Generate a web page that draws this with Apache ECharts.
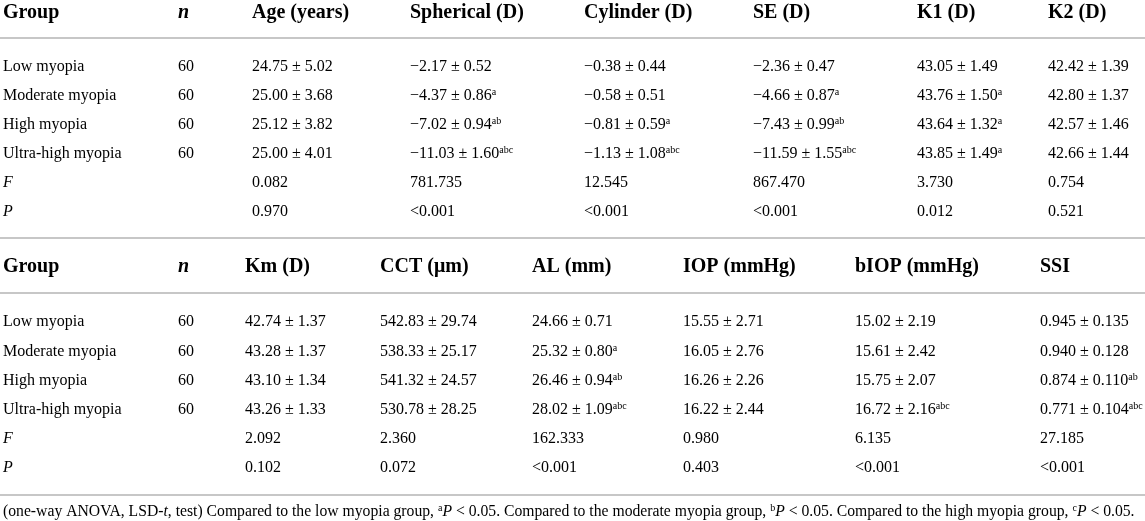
<!DOCTYPE html>
<html>
<head>
<meta charset="utf-8">
<script src="https://cdn.jsdelivr.net/npm/echarts@6/dist/echarts.min.js"></script>
<style>
  html, body { margin: 0; padding: 0; background: #fff; }
  #main { width: 1145px; height: 521px; }
</style>
</head>
<body>
<div id="main"></div>
<script>
// 表格数据（^ 后面是上标）
var groups = ['Low myopia', 'Moderate myopia', 'High myopia', 'Ultra-high myopia'];
var groupN = ['60', '60', '60', '60'];

var headers1 = ['Age (years)', 'Spherical (D)', 'Cylinder (D)', 'SE (D)', 'K1 (D)', 'K2 (D)'];
var age = ['24.75 ± 5.02', '25.00 ± 3.68', '25.12 ± 3.82', '25.00 ± 4.01'];
var spherical = ['−2.17 ± 0.52', '−4.37 ± 0.86^a', '−7.02 ± 0.94^ab', '−11.03 ± 1.60^abc'];
var cylinder = ['−0.38 ± 0.44', '−0.58 ± 0.51', '−0.81 ± 0.59^a', '−1.13 ± 1.08^abc'];
var se = ['−2.36 ± 0.47', '−4.66 ± 0.87^a', '−7.43 ± 0.99^ab', '−11.59 ± 1.55^abc'];
var k1 = ['43.05 ± 1.49', '43.76 ± 1.50^a', '43.64 ± 1.32^a', '43.85 ± 1.49^a'];
var k2 = ['42.42 ± 1.39', '42.80 ± 1.37', '42.57 ± 1.46', '42.66 ± 1.44'];
var fValues1 = ['0.082', '781.735', '12.545', '867.470', '3.730', '0.754'];
var pValues1 = ['0.970', '<0.001', '<0.001', '<0.001', '0.012', '0.521'];

var headers2 = ['Km (D)', 'CCT (μm)', 'AL (mm)', 'IOP (mmHg)', 'bIOP (mmHg)', 'SSI'];
var km = ['42.74 ± 1.37', '43.28 ± 1.37', '43.10 ± 1.34', '43.26 ± 1.33'];
var cct = ['542.83 ± 29.74', '538.33 ± 25.17', '541.32 ± 24.57', '530.78 ± 28.25'];
var al = ['24.66 ± 0.71', '25.32 ± 0.80^a', '26.46 ± 0.94^ab', '28.02 ± 1.09^abc'];
var iop = ['15.55 ± 2.71', '16.05 ± 2.76', '16.26 ± 2.26', '16.22 ± 2.44'];
var biop = ['15.02 ± 2.19', '15.61 ± 2.42', '15.75 ± 2.07', '16.72 ± 2.16^abc'];
var ssi = ['0.945 ± 0.135', '0.940 ± 0.128', '0.874 ± 0.110^ab', '0.771 ± 0.104^abc'];
var fValues2 = ['2.092', '2.360', '162.333', '0.980', '6.135', '27.185'];
var pValues2 = ['0.102', '0.072', '<0.001', '0.403', '<0.001', '<0.001'];

// 版式
var FONT = '"Liberation Serif", "DejaVu Serif", serif';
var INK = '#1a1718';
var RULE = '#b4b4b4';
var colX1 = [3, 178, 252, 410, 584, 753, 917, 1048];
var colX2 = [3, 178, 245, 380, 532, 683, 855, 1040];
var rowY1 = [13, 67, 96, 125, 154, 183, 212];
var rowY2 = [267, 322, 352, 381, 410, 439, 468];
var ruleY = [38, 238, 293, 495];
var footY = 512;

function cellRich(str, kind) {
    if (kind === 'head') return '{h|' + str + '}';
    if (kind === 'headItalic') return '{hi|' + str + '}';
    if (kind === 'italic') return '{i|' + str + '}';
    if (kind === 'raw') return str;
    var parts = str.split('^');
    return '{v|' + parts[0] + '}' + (parts[1] ? '{s|' + parts[1] + '}' : '');
}

var cellTexts = [], cellData = [];
function addCell(x, y, str, kind) {
    cellData.push([x, y, cellTexts.length]);
    cellTexts.push(cellRich(str, kind));
}

function buildTable(colX, rowY, headers, cols, fVals, pVals) {
    addCell(colX[0], rowY[0], 'Group', 'head');
    addCell(colX[1], rowY[0], 'n', 'headItalic');
    headers.forEach(function (h, c) { addCell(colX[c + 2], rowY[0], h, 'head'); });
    groups.forEach(function (g, r) {
        addCell(colX[0], rowY[r + 1], g, 'body');
        addCell(colX[1], rowY[r + 1], groupN[r], 'body');
        cols.forEach(function (col, c) { addCell(colX[c + 2], rowY[r + 1], col[r], 'body'); });
    });
    addCell(colX[0], rowY[5], 'F', 'italic');
    addCell(colX[0], rowY[6], 'P', 'italic');
    fVals.forEach(function (v, c) { addCell(colX[c + 2], rowY[5], v, 'body'); });
    pVals.forEach(function (v, c) { addCell(colX[c + 2], rowY[6], v, 'body'); });
}

buildTable(colX1, rowY1, headers1, [age, spherical, cylinder, se, k1, k2], fValues1, pValues1);
buildTable(colX2, rowY2, headers2, [km, cct, al, iop, biop, ssi], fValues2, pValues2);

var footnote = '{n|(one-way ANOVA, LSD-}{ni|t}{n|, test) Compared to the low myopia group, }{s|a}{ni|P}{n| < 0.05. ' +
    'Compared to the moderate myopia group, }{s|b}{ni|P}{n| < 0.05. Compared to the high myopia group, }{s|c}{ni|P}{n| < 0.05.}';
addCell(3, footY, footnote, 'raw');

var rich = {
    h: { fontFamily: FONT, fontSize: 20, fontWeight: 'bold', color: INK, lineHeight: 22 },
    hi: { fontFamily: FONT, fontSize: 20, fontWeight: 'bold', fontStyle: 'italic', color: INK, lineHeight: 22 },
    v: { fontFamily: FONT, fontSize: 16, color: INK, lineHeight: 18 },
    i: { fontFamily: FONT, fontSize: 16, fontStyle: 'italic', color: INK, lineHeight: 18 },
    n: { fontFamily: FONT, fontSize: 15.7, color: INK, lineHeight: 18 },
    ni: { fontFamily: FONT, fontSize: 15.7, fontStyle: 'italic', color: INK, lineHeight: 18 },
    s: { fontFamily: FONT, fontSize: 10, color: INK, lineHeight: 10, verticalAlign: 'top' }
};

var chart = echarts.init(document.getElementById('main'));
chart.setOption({
    animation: false,
    backgroundColor: '#fff',
    grid: { left: 0, right: 0, top: 0, bottom: 0 },
    xAxis: { type: 'value', min: 0, max: 1145, show: false },
    yAxis: { type: 'value', min: 0, max: 521, inverse: true, show: false },
    graphic: ruleY.map(function (y) {
        return {
            type: 'line',
            shape: { x1: 0, y1: y, x2: 1145, y2: y },
            style: { stroke: RULE, lineWidth: 1.5 }
        };
    }),
    series: [{
        type: 'custom',
        clip: false,
        silent: true,
        data: cellData,
        encode: { x: 0, y: 1 },
        renderItem: function (params, api) {
            var p = api.coord([api.value(0), api.value(1)]);
            return {
                type: 'text',
                style: {
                    x: p[0],
                    y: p[1],
                    text: cellTexts[api.value(2)],
                    rich: rich,
                    align: 'left',
                    verticalAlign: 'middle'
                }
            };
        }
    }]
});
</script>
</body>
</html>
